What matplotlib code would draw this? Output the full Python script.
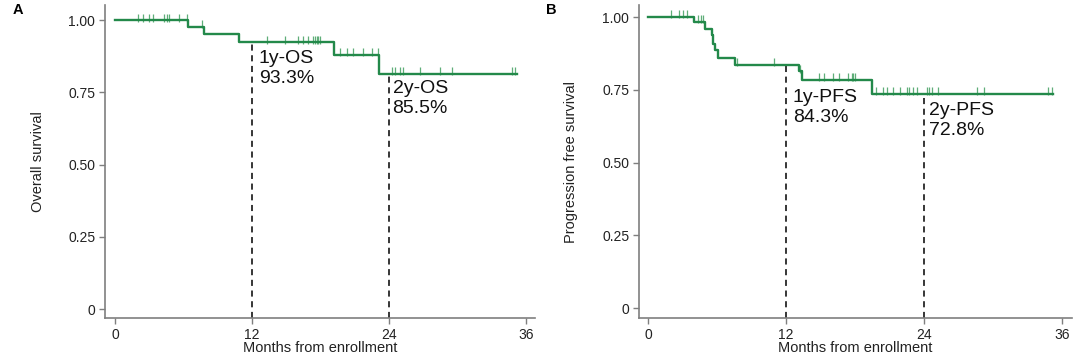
import matplotlib
matplotlib.use("Agg")
import matplotlib.pyplot as plt
import numpy as np

plt.rcParams['font.family'] = ['Liberation Sans', 'DejaVu Sans']

# ---------------- Data ----------------
# Panel A: Overall survival (step curve: event times and survival after each drop)
os_event_times = [0, 6.36, 7.82, 10.86, 19.2, 23.1]
os_surv = [1.00, 0.977, 0.952, 0.923, 0.881, 0.815]
os_end = 35.2
os_censor_times = [1.98, 2.48, 3.0, 3.36, 4.32, 4.58, 4.73, 5.6, 6.28,
                   7.65,
                   13.28, 14.89, 16.05, 16.49, 16.93, 17.31, 17.51, 17.66, 17.8, 17.95,
                   19.7, 20.29, 20.87, 21.74, 22.48, 23.06,
                   24.23, 24.52, 24.96, 25.25, 26.7, 28.46, 29.54, 34.79, 35.03]

# Panel B: Progression free survival
pfs_event_times = [0, 4.0, 4.96, 5.54, 5.68, 5.83, 6.1, 7.57, 13.16, 13.4, 19.5]
pfs_surv = [1.00, 0.983, 0.960, 0.938, 0.907, 0.887, 0.861, 0.835, 0.814, 0.784, 0.737]
pfs_end = 35.2
pfs_censor_times = [1.97, 2.7, 3.07, 3.42,
                    4.38, 4.6, 4.8,
                    7.7, 10.98,
                    13.2, 14.9, 15.33, 16.1, 16.63, 17.4, 17.7, 17.85, 18.0,
                    19.83, 20.46, 20.75, 21.33, 21.9, 22.5, 22.7, 23.07, 23.36,
                    24.23, 24.43, 24.67, 25.24, 28.58, 29.22, 34.8, 35.1]

x_ticks = [0, 12, 24, 36]
y_ticks = [0, 0.25, 0.5, 0.75, 1.0]
y_ticklabels = ["0", "0.25", "0.50", "0.75", "1.00"]

os_landmarks = [12, 24]
os_labels = ["1y-OS\n93.3%", "2y-OS\n85.5%"]
pfs_landmarks = [12, 24]
pfs_labels = ["1y-PFS\n84.3%", "2y-PFS\n72.8%"]

LINE = '#23894a'
CENS = '#5fae78'
SPINE = '#7f7f7f'


def surv_at(t, times, surv):
    idx = np.searchsorted(times, t, side='right') - 1
    return surv[max(idx, 0)]


def km_panel(ax, times, surv, end, censors, landmarks, labels, text_pos,
             ylabel, xlim, ylim, letter):
    xs = list(times) + [end]
    ys = list(surv) + [surv[-1]]
    ax.step(xs, ys, where='post', color=LINE, lw=1.7, zorder=3)
    # censor marks
    cy = [surv_at(t, times, surv) for t in censors]
    ax.plot(censors, np.array(cy) + 0.009, linestyle='none', marker='|',
            markersize=6, markeredgewidth=0.9, color=CENS, zorder=2)
    # landmark dashed lines and texts
    for lm, lab, (tx, ty) in zip(landmarks, labels, text_pos):
        yv = surv_at(lm, times, surv)
        ax.plot([lm, lm], [ylim[0], yv], color='black', lw=1.1,
                linestyle=(0, (4, 3)), zorder=1)
        ax.text(tx, ty, lab, fontsize=14, va='top', ha='left',
                linespacing=1.2, color='#111111')
    ax.set_xlim(*xlim)
    ax.set_ylim(*ylim)
    ax.set_xticks(x_ticks)
    ax.set_yticks(y_ticks)
    ax.set_yticklabels(y_ticklabels)
    for s in ['top', 'right']:
        ax.spines[s].set_visible(False)
    for s in ['left', 'bottom']:
        ax.spines[s].set_color(SPINE)
        ax.spines[s].set_linewidth(1.2)
    ax.tick_params(axis='both', direction='out', length=4, width=1,
                   color=SPINE, labelsize=10, labelcolor='#222222', pad=3)
    ax.set_xlabel("Months from enrollment", fontsize=10.5, color='#222222')
    ax.xaxis.set_label_coords(0.5, -0.075)
    ax.set_ylabel(ylabel, fontsize=10.5, color='#222222')
    ax.yaxis.set_label_coords(-0.14, 0.5)
    ax.text(-0.215, 0.985, letter, transform=ax.transAxes, fontsize=10.5,
            fontweight='bold', va='center', ha='left')


fig = plt.figure(figsize=(10.8, 3.6), dpi=100)
axA = fig.add_axes([0.0972, 0.1167, 0.3982, 0.869])
axB = fig.add_axes([0.5917, 0.1167, 0.4009, 0.869])

km_panel(axA, os_event_times, os_surv, os_end, os_censor_times,
         os_landmarks, os_labels, [(12.6, 0.895), (24.3, 0.792)],
         "Overall survival", (-0.876, 36.78), (-0.031, 1.052), "A")
km_panel(axB, pfs_event_times, pfs_surv, pfs_end, pfs_censor_times,
         pfs_landmarks, pfs_labels, [(12.6, 0.753), (24.45, 0.707)],
         "Progression free survival", (-0.78, 36.87), (-0.034, 1.041), "B")

fig.savefig("out.png", dpi=100)
